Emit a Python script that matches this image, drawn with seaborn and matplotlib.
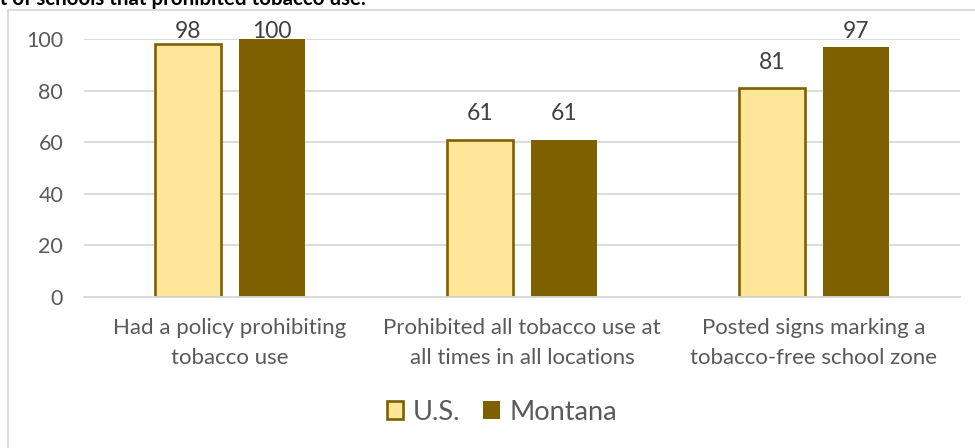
import matplotlib
matplotlib.use("Agg")
import matplotlib.pyplot as plt
from matplotlib.patches import Patch, Rectangle
import seaborn as sns
import pandas as pd

categories = ["Had a policy prohibiting\ntobacco use",
              "Prohibited all tobacco use at\nall times in all locations",
              "Posted signs marking a\ntobacco-free school zone"]
groups = ["U.S.", "Montana"]
us_values = [98, 61, 81]
mt_values = [100, 61, 97]
y_ticks = [0, 20, 40, 60, 80, 100]
title = "Percent of schools that prohibited tobacco use."

US_FILL = "#FFE699"
US_EDGE = "#7F6000"
MT_FILL = "#7F6000"
GRID = "#D9D9D9"

df = pd.DataFrame({
    "cat": categories * 2,
    "grp": [groups[0]] * 3 + [groups[1]] * 3,
    "val": us_values + mt_values,
})

sns.set_style("white")
plt.rcParams['font.family'] = ['Lato', 'DejaVu Sans']

W, H = 975, 448
fig = plt.figure(figsize=(W / 100, H / 100), dpi=100)
ax = fig.add_axes([84 / W, (H - 297) / H, (960 - 84) / W, (297 - 39) / H])

sns.barplot(data=df, x="cat", y="val", hue="grp", hue_order=groups,
            palette=[US_FILL, MT_FILL], width=0.572, gap=0.21,
            ax=ax, legend=False, saturation=1)

for b in ax.containers[0]:
    b.set_edgecolor(US_EDGE)
    b.set_linewidth(1.9)
for b in ax.containers[1]:
    b.set_edgecolor(MT_FILL)
    b.set_linewidth(0)

for cont, vals in zip(ax.containers, [us_values, mt_values]):
    for b, v in zip(cont, vals):
        xc = b.get_x() + b.get_width() / 2
        ax.text(xc, min(v + 10, 103.0), f"{v}", ha="center", va="center",
                fontsize=16.5, color="#404040", clip_on=False)

ax.set_ylim(0, 100)
ax.set_xlim(-0.5, 2.5)
ax.set_yticks(y_ticks)
ax.set_xlabel("")
ax.set_ylabel("")
ax.yaxis.grid(True, color=GRID, linewidth=1.3)
ax.set_axisbelow(True)
for s in ["top", "right", "left"]:
    ax.spines[s].set_visible(False)
ax.spines["bottom"].set_color(GRID)
ax.spines["bottom"].set_linewidth(1.3)
ax.tick_params(axis="y", length=0, pad=15, labelsize=15.5, labelcolor="#595959")
ax.tick_params(axis="x", length=0, pad=15, labelsize=16, labelcolor="#595959")
for lab in ax.get_xticklabels():
    lab.set_linespacing(1.62)

# chart border (extends beyond right/bottom edges)
fig.patches.append(Rectangle((8 / W, -0.1), 1.2, (H - 10) / H + 0.1,
                             transform=fig.transFigure, fill=False,
                             edgecolor=GRID, linewidth=1.3, zorder=-1))

fig.text(366 / W, (H - 5) / H, title, ha="right", va="baseline",
         fontsize=14.75, fontweight="bold", color="black")

handles = [Patch(facecolor=US_FILL, edgecolor=US_EDGE, linewidth=1.9, label=groups[0]),
           Patch(facecolor=MT_FILL, edgecolor=MT_FILL, linewidth=0, label=groups[1])]
fig.legend(handles=handles, loc="center", bbox_to_anchor=(502 / W, (H - 412) / H),
           ncol=2, frameon=False, fontsize=19.5, labelcolor="#595959",
           handlelength=0.62, handleheight=0.62, handletextpad=0.35,
           columnspacing=0.85)

fig.savefig("out.png", dpi=100)
